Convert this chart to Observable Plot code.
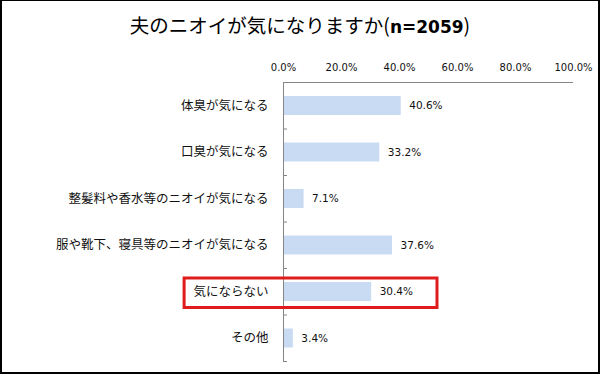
<!DOCTYPE html>
<html>
<head>
<meta charset="utf-8">
<script src="https://cdn.jsdelivr.net/npm/d3@7"></script>
<script src="https://cdn.jsdelivr.net/npm/@observablehq/plot@0.6"></script>
<style>
  html, body { margin: 0; padding: 0; background: #fff; }
  #box { position: relative; width: 600px; height: 374px; box-sizing: border-box;
         border: 2px solid #000; border-top-width: 1px; background: #fff; overflow: hidden; }
  #title { height: 35px; padding-top: 14px; text-align: center; font-family: "Noto Sans CJK JP", sans-serif;
           font-size: 19.5px; line-height: 20px; color: #000; white-space: nowrap; }
  #title b { font-family: "DejaVu Sans", "Noto Sans CJK JP", sans-serif; font-weight: bold; font-size: 17px; }
  svg { display: block; }
</style>
</head>
<body>
<div id="box">
  <div id="title">夫のニオイが気になりますか(<b>n=2059</b>)</div>
  <div id="chart"></div>
</div>
<script>
// ---- data ----
const categories = [
  "体臭が気になる",
  "口臭が気になる",
  "整髪料や香水等のニオイが気になる",
  "服や靴下、寝具等のニオイが気になる",
  "気にならない",
  "その他"
];
const values = [40.6, 33.2, 7.1, 37.6, 30.4, 3.4];
const xTicks = [0, 20, 40, 60, 80, 100];
const xTickLabels = ["0.0%", "20.0%", "40.0%", "60.0%", "80.0%", "100.0%"];
const highlightCategory = "気にならない";
const highlightFrom = [-34.1];
const highlightTo = [53.1];

// ---- build ----
const rows = categories.map((c, i) => ({category: c, value: values[i], i}));
const hiIndex = categories.indexOf(highlightCategory);
const highlight = [{i: hiIndex, from: highlightFrom[0], to: highlightTo[0]}];
const axisGray = "#868686";

const chart = Plot.plot({
  width: 596,
  height: 322,
  marginTop: 32,
  marginBottom: 11,
  marginLeft: 281,
  marginRight: 25,
  style: {fontFamily: "'Noto Sans CJK JP', sans-serif", color: "#000", background: "#fff"},
  x: {domain: [0, 100]},
  y: {domain: [0, categories.length], reverse: true},
  marks: [
    Plot.rect(rows, {
      x1: 0, x2: "value", y1: "i", y2: d => d.i + 1,
      insetTop: 14, insetBottom: 13.5, fill: "#c9dbf3"
    }),
    Plot.text(rows, {
      x: "value", y: d => d.i + 0.5, text: d => d.value.toFixed(1) + "%",
      textAnchor: "start", dx: 8, fontSize: 10.5, fontFamily: "DejaVu Sans", fill: "#111"
    }),
    Plot.ruleX([0], {stroke: axisGray, strokeWidth: 1}),
    Plot.ruleY([0], {stroke: axisGray, strokeWidth: 1}),
    Plot.axisX({
      anchor: "top", ticks: xTicks, tickFormat: (d) => xTickLabels[xTicks.indexOf(d)],
      tickSize: 0, tickPadding: 12, fontSize: 10, fontFamily: "DejaVu Sans", fill: "#111", label: null
    }),
    Plot.axisY({
      anchor: "left", ticks: d3.range(categories.length + 1), tickFormat: () => "",
      tickSize: -4, stroke: axisGray, label: null
    }),
    Plot.axisY({
      anchor: "left", ticks: categories.map((c, i) => i + 0.5),
      tickFormat: (v) => categories[Math.floor(v)],
      tickSize: 0, tickPadding: 15, fontSize: 12.5, fill: "#111", label: null
    }),
    Plot.rect(highlight, {
      x1: "from", x2: "to", y1: "i", y2: d => d.i + 1,
      insetTop: 10, insetBottom: 7, fill: "none", stroke: "#e01b1b", strokeWidth: 3
    })
  ]
});
document.getElementById("chart").appendChild(chart);
</script>
</body>
</html>
